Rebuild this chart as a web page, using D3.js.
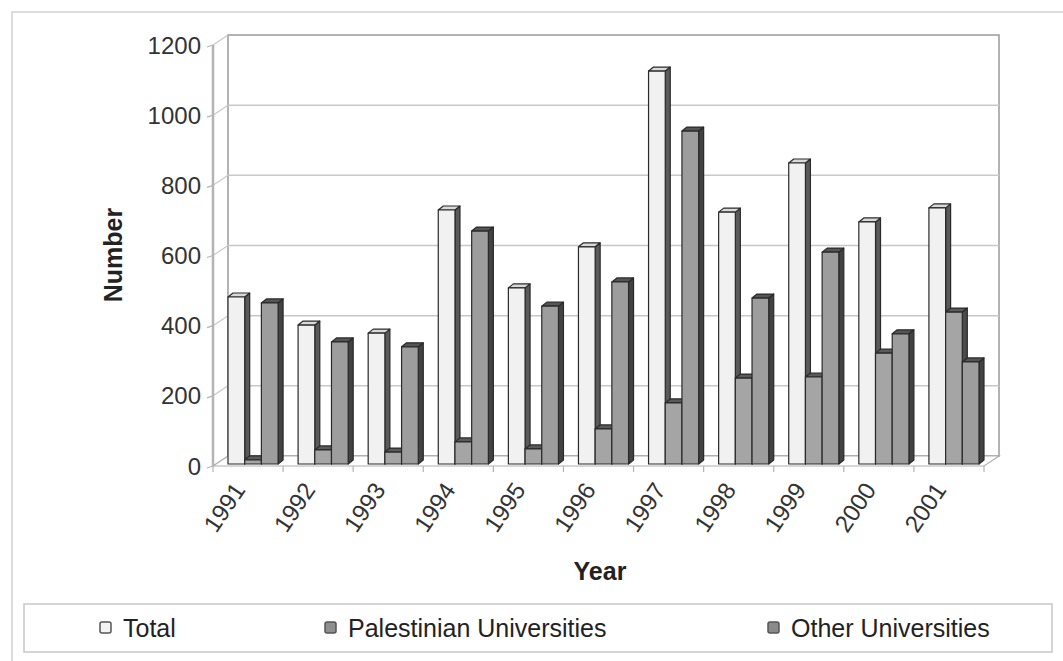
<!DOCTYPE html>
<html>
<head>
<meta charset="utf-8">
<script src="https://cdn.jsdelivr.net/npm/d3@7"></script>
<style>
  html, body { margin: 0; padding: 0; background: #fff; }
  svg { display: block; font-family: "Liberation Sans", Arial, sans-serif; }
</style>
</head>
<body>
<svg id="chart" width="1063" height="661"></svg>
<script>
// Graduates by year
const years = ["1991", "1992", "1993", "1994", "1995", "1996", "1997", "1998", "1999", "2000", "2001"];
const total = [476, 396, 373, 724, 502, 619, 1120, 718, 858, 690, 730];
const palestinian = [12, 40, 34, 63, 43, 100, 174, 245, 248, 316, 433];
const other = [459, 348, 334, 664, 450, 519, 949, 473, 604, 371, 291];
const yTicks = [0, 200, 400, 600, 800, 1000, 1200];
const seriesNames = ["Total", "Palestinian Universities", "Other Universities"];

const seriesStyle = [
  { front: "#f1f1f1", top: "#d9d9d9", side: "#5a5a5a", swatch: "#f4f4f4" },
  { front: "#a5a5a5", top: "#5a5a5a", side: "#4a4a4a", swatch: "#8f8f8f" },
  { front: "#9d9d9d", top: "#555555", side: "#424242", swatch: "#8a8a8a" }
];
const seriesValues = [total, palestinian, other];

const svg = d3.select("#chart");

// 3D projection offsets
const WALL_DX = 15, WALL_DY = -10;   // floor depth (front axis -> back wall)
const BAR_X = 5, BAR_Y = -2;         // bar front plane inside the floor
const BAR_DX = 5, BAR_DY = -4;       // bar thickness

const x = d3.scaleBand().domain(years).range([213, 984]);
const xs = d3.scaleBand().domain(seriesNames).range([10, x.bandwidth() - 10]);
const y = d3.scaleLinear().domain([0, 1200]).range([466, 45]);

const y0 = y(0), yTop = y(1200);
const xL = x.range()[0], xR = x.range()[1];

// outer frame
svg.append("rect")
  .attr("x", 12).attr("y", 12).attr("width", 1070).attr("height", 670)
  .attr("fill", "none").attr("stroke", "#dcdcdc").attr("stroke-width", 2);

// back wall
const wall = svg.append("g");
wall.append("rect")
  .attr("x", xL + WALL_DX).attr("y", yTop + WALL_DY)
  .attr("width", xR - xL).attr("height", y0 - yTop)
  .attr("fill", "#fff").attr("stroke", "#9a9a9a").attr("stroke-width", 1.5);

wall.selectAll("line.grid")
  .data(yTicks.slice(1, -1))
  .join("line")
  .attr("class", "grid")
  .attr("x1", xL + WALL_DX).attr("x2", xR + WALL_DX)
  .attr("y1", d => y(d) + WALL_DY).attr("y2", d => y(d) + WALL_DY)
  .attr("stroke", "#c8c8c8").attr("stroke-width", 1.5);

// side wall diagonals on the value axis
wall.selectAll("line.sideTick")
  .data(yTicks)
  .join("line")
  .attr("class", "sideTick")
  .attr("x1", xL).attr("x2", xL + WALL_DX)
  .attr("y1", d => y(d)).attr("y2", d => y(d) + WALL_DY)
  .attr("stroke", "#c8c8c8").attr("stroke-width", 1.2);

// floor
svg.append("path")
  .attr("d", `M${xL},${y0} L${xL + WALL_DX},${y0 + WALL_DY} L${xR + WALL_DX},${y0 + WALL_DY} L${xR},${y0} Z`)
  .attr("fill", "#fff").attr("stroke", "#b0b0b0").attr("stroke-width", 1.2);

// value axis line
svg.append("line")
  .attr("x1", xL).attr("x2", xL).attr("y1", y0).attr("y2", yTop)
  .attr("stroke", "#b4b4b4").attr("stroke-width", 2.5);

// value axis ticks and labels
const yAxis = svg.append("g");
yAxis.selectAll("line")
  .data(yTicks)
  .join("line")
  .attr("x1", xL - 6).attr("x2", xL)
  .attr("y1", d => y(d) + 2).attr("y2", d => y(d))
  .attr("stroke", "#b4b4b4").attr("stroke-width", 1.2);
yAxis.selectAll("text")
  .data(yTicks)
  .join("text")
  .attr("x", 201).attr("y", d => y(d))
  .attr("dy", "0.36em")
  .attr("text-anchor", "end")
  .attr("font-size", 24)
  .attr("fill", "#333")
  .text(d => d);

// category ticks
svg.append("g").selectAll("line")
  .data(years.concat(["end"]))
  .join("line")
  .attr("x1", (d, i) => xL + i * x.step()).attr("x2", (d, i) => xL + i * x.step())
  .attr("y1", y0).attr("y2", y0 + 6)
  .attr("stroke", "#b4b4b4").attr("stroke-width", 1.2);

// 3D bars
const bars = svg.append("g");
years.forEach((yr, i) => {
  seriesNames.forEach((name, s) => {
    const v = seriesValues[s][i];
    const st = seriesStyle[s];
    const bx0 = x(yr) + xs(name) + BAR_X;
    const bx1 = bx0 + xs.bandwidth();
    const by0 = y(0) + BAR_Y;
    const by1 = y(v) + BAR_Y;
    const g = bars.append("g").attr("stroke", "#2a2a2a").attr("stroke-width", 1.2).attr("stroke-linejoin", "round");
    // side face
    g.append("path")
      .attr("d", `M${bx1},${by0} L${bx1 + BAR_DX},${by0 + BAR_DY} L${bx1 + BAR_DX},${by1 + BAR_DY} L${bx1},${by1} Z`)
      .attr("fill", st.side);
    // top face
    g.append("path")
      .attr("d", `M${bx0},${by1} L${bx0 + BAR_DX},${by1 + BAR_DY} L${bx1 + BAR_DX},${by1 + BAR_DY} L${bx1},${by1} Z`)
      .attr("fill", st.top);
    // front face
    g.append("rect")
      .attr("x", bx0).attr("y", by1)
      .attr("width", bx1 - bx0).attr("height", by0 - by1)
      .attr("fill", st.front);
  });
});

// category labels
svg.append("g").selectAll("text")
  .data(years)
  .join("text")
  .attr("transform", d => `translate(${x(d) + x.bandwidth() / 2 - 9},${y0 + 19}) rotate(-56)`)
  .attr("text-anchor", "end")
  .attr("dy", "0.36em")
  .attr("font-size", 24)
  .attr("fill", "#333")
  .text(d => d);

// axis titles
svg.append("text")
  .attr("transform", "translate(113,255) rotate(-90)")
  .attr("text-anchor", "middle")
  .attr("dy", "0.36em")
  .attr("font-size", 25)
  .attr("font-weight", "bold")
  .attr("fill", "#222")
  .text("Number");

svg.append("text")
  .attr("x", 600).attr("y", 571)
  .attr("text-anchor", "middle")
  .attr("dy", "0.36em")
  .attr("font-size", 25)
  .attr("font-weight", "bold")
  .attr("fill", "#222")
  .text("Year");

// legend
const legend = svg.append("g");
legend.append("rect")
  .attr("x", 24).attr("y", 604).attr("width", 1028).attr("height", 48)
  .attr("fill", "#fff").attr("stroke", "#c8c8c8").attr("stroke-width", 1.5);

const legendX = [100, 325, 768];
const items = legend.selectAll("g.item")
  .data(seriesNames)
  .join("g")
  .attr("class", "item")
  .attr("transform", (d, i) => `translate(${legendX[i]},628)`);
items.append("rect")
  .attr("x", 0).attr("y", -6).attr("width", 11).attr("height", 11).attr("rx", 2)
  .attr("fill", (d, i) => seriesStyle[i].swatch)
  .attr("stroke", "#555").attr("stroke-width", 1.5);
items.append("text")
  .attr("x", 23).attr("y", 0)
  .attr("dy", "0.36em")
  .attr("font-size", 25)
  .attr("fill", "#222")
  .text(d => d);
</script>
</body>
</html>
